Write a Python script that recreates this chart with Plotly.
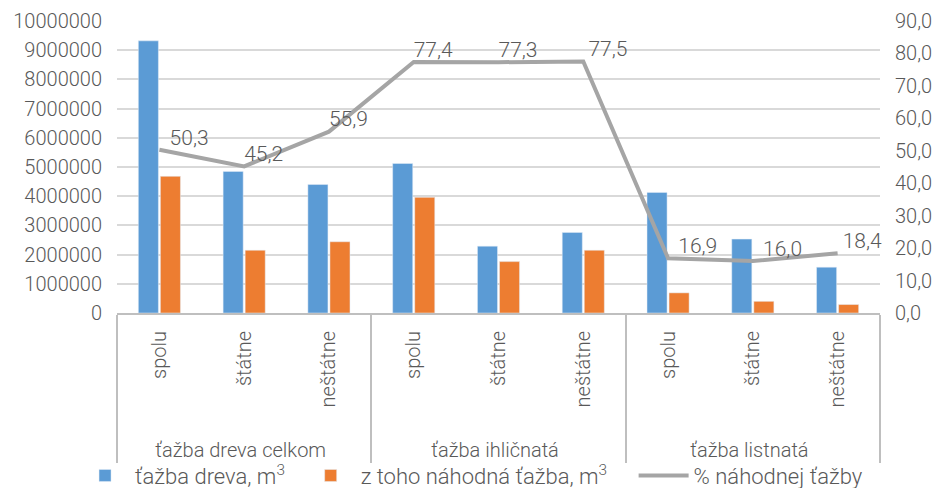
import plotly.graph_objects as go

group_labels = ["ťažba dreva celkom", "ťažba ihličnatá", "ťažba listnatá"]
sub_labels = ["spolu", "štátne", "neštátne"]
tazba = [9320000, 4850000, 4400000, 5120000, 2290000, 2760000, 4130000, 2530000, 1570000]
nahodna = [4680000, 2150000, 2440000, 3960000, 1760000, 2150000, 690000, 400000, 290000]
percent = [50.3, 45.2, 55.9, 77.4, 77.3, 77.5, 16.9, 16.0, 18.4]

# style only: extra left padding (in spaces) of each line data label
label_pad = [2, 0, 0, 0, 0, 1, 2, 2, 1]

NB = "\u00a0"
x_outer = [g for g in group_labels for _ in sub_labels]
# leading non-breaking spaces extend the rotated labels downward (more room below)
x_inner = [NB * 4 + s for _ in group_labels for s in sub_labels]
x = [x_outer, x_inner]

FONT = "Roboto"
GRAY = "#595959"
TF = dict(family=FONT, size=20, color=GRAY, weight=300)
LF = dict(family=FONT, size=21, color=GRAY, weight=300)
GF = dict(family=FONT, size=22, color=GRAY, weight=300)

line_text = [NB * p + f"{v:.1f}".replace(".", ",") for v, p in zip(percent, label_pad)]

fig = go.Figure()
fig.add_trace(go.Bar(x=x, y=tazba, name="ťažba dreva, m<sup>3</sup>" + NB * 2, marker_color="#5B9BD5"))
fig.add_trace(go.Bar(x=x, y=nahodna, name="z toho náhodná ťažba, m<sup>3</sup>" + NB * 4,
                     marker_color="#ED7D31"))
fig.add_trace(go.Scatter(x=x, y=percent, name="% náhodnej ťažby", yaxis="y2",
                         mode="lines+text", line=dict(color="#A5A5A5", width=4),
                         text=line_text, textposition="top right",
                         textfont=LF, cliponaxis=False))

fig.update_layout(
    width=932, height=480,
    margin=dict(l=109, r=60, t=13, b=175, autoexpand=False),
    paper_bgcolor="white", plot_bgcolor="white",
    font=TF,
    separators=", ",
    barmode="group", bargap=0.48, bargroupgap=0.09,
    xaxis=dict(type="multicategory", tickangle=-90, showline=True, linecolor="#BFBFBF",
               linewidth=2, showdividers=True, dividercolor="#BFBFBF", dividerwidth=2,
               automargin=False, ticklabelstandoff=8, tickfont=TF),
    yaxis=dict(range=[0, 10000000], dtick=1000000, tickformat="d", showgrid=True,
               gridcolor="#D9D9D9", gridwidth=2, zeroline=False, ticks="", automargin=False,
               ticklabelstandoff=14, tickfont=TF),
    yaxis2=dict(range=[0, 90], dtick=10, tickformat=".1f", overlaying="y", side="right",
                showgrid=False, zeroline=False, ticks="", ticklabelstandoff=14, automargin=False,
                tickfont=TF),
    legend=dict(orientation="h", x=-0.055, xanchor="left", y=-0.557, yanchor="middle",
                itemwidth=50, font=GF, traceorder="normal", bgcolor="rgba(0,0,0,0)"),
)

fig.write_html("out.html")
